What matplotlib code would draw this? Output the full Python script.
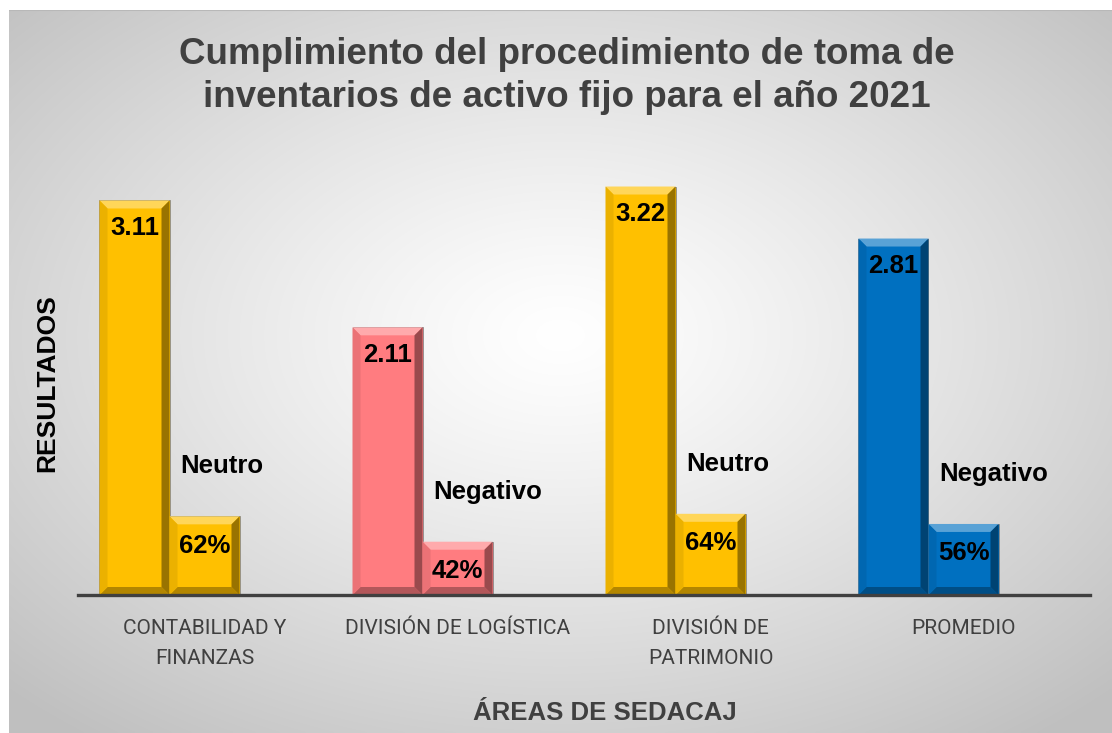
import numpy as np
import matplotlib
matplotlib.use("Agg")
import matplotlib.pyplot as plt
from matplotlib.patches import Polygon
from matplotlib.colors import to_rgb

# ── data ─────────────────────────────────────────────────────────────
areas = ["CONTABILIDAD Y\nFINANZAS", "DIVISIÓN DE LOGÍSTICA",
         "DIVISIÓN DE\nPATRIMONIO", "PROMEDIO"]
puntaje = [3.11, 2.11, 3.22, 2.81]
porcentaje = [0.62, 0.42, 0.64, 0.56]
nivel = ["Neutro", "Negativo", "Neutro", "Negativo"]
colores = ["#FFC000", "#FF7C80", "#FFC000", "#0070C0"]

TEXT_GRAY = "#404040"
plt.rcParams["font.family"] = ["Liberation Sans", "DejaVu Sans"]

W, H, DPI = 1112, 733, 100
fig = plt.figure(figsize=(W / DPI, H / DPI), dpi=DPI)
fig.patch.set_facecolor("white")

# ── radial gradient background (chart area) ─────────────────────────
bg = fig.add_axes([9 / W, 0, 1 - 9 / W, 1 - 10 / H], zorder=-10)
yy, xx = np.mgrid[-1:1:300j, -1:1:400j]
r = np.sqrt(xx ** 2 + (yy + 0.1) ** 2) / np.sqrt(2)
shade = 1.0 - 0.25 * np.clip(r, 0, 1) ** 1.2
bg.imshow(np.dstack([shade, shade, shade]), aspect="auto",
          extent=[0, 1, 0, 1], interpolation="bilinear")
bg.axhline(1, color="#b8b8b8", lw=1.5)
bg.set_axis_off()

# ── main axes ───────────────────────────────────────────────────────
ax = fig.add_axes([78 / W, 138 / H, 1012 / W, 444 / H])
ax.set_facecolor("none")
ax.set_xlim(-0.5, 3.5)
ax.set_ylim(0, 3.5)

x = np.arange(len(areas))
w = 70 / 253
bars1 = ax.bar(x - w, puntaje, w, color=colores, edgecolor="#8a8a8a",
               linewidth=0.6, zorder=2)
bars2 = ax.bar(x, porcentaje, w, color=colores, edgecolor="#8a8a8a",
               linewidth=0.6, zorder=2)

# bevel effect: light top, darker sides/bottom
px_x = 1012 / 4.0
px_y = 444 / 3.5
bx, by = 8 / px_x, 8 / px_y


def shade_col(c, f):
    c = np.array(to_rgb(c))
    return tuple(np.clip(c + (1 - c) * f, 0, 1)) if f > 0 else tuple(c * (1 + f))


for bar, col in zip(list(bars1) + list(bars2), colores + colores):
    x0, y0 = bar.get_x(), bar.get_y()
    x1, y1 = x0 + bar.get_width(), y0 + bar.get_height()
    o = [(x0, y0), (x1, y0), (x1, y1), (x0, y1)]
    i = [(x0 + bx, y0 + by), (x1 - bx, y0 + by), (x1 - bx, y1 - by), (x0 + bx, y1 - by)]
    sides = [
        ([o[3], o[2], i[2], i[3]], 0.35),   # top
        ([o[0], o[1], i[1], i[0]], -0.30),  # bottom
        ([o[0], o[3], i[3], i[0]], -0.08),  # left
        ([o[1], o[2], i[2], i[1]], -0.40),  # right
    ]
    for pts, f in sides:
        ax.add_patch(Polygon(pts, closed=True, facecolor=shade_col(col, f),
                             edgecolor="none", zorder=3))

# value labels
for bar, v in zip(bars1, puntaje):
    ax.annotate(f"{v:.2f}", (bar.get_x() + bar.get_width() / 2, v),
                xytext=(0, -20), textcoords="offset points",
                ha="center", va="center", fontsize=18.5, fontweight="bold",
                color="black", zorder=5)
for bar, v, lab in zip(bars2, porcentaje, nivel):
    ax.annotate(f"{v:.0%}", (bar.get_x() + bar.get_width() / 2, v),
                xytext=(0, -21), textcoords="offset points",
                ha="center", va="center", fontsize=18.5, fontweight="bold",
                color="black", zorder=5)
    ax.annotate(lab, (bar.get_x(), v), xytext=(8, 36),
                textcoords="offset points", ha="left", va="center",
                fontsize=18.5, fontweight="bold", color="black", zorder=5)

# axes styling
for s in ["top", "right", "left"]:
    ax.spines[s].set_visible(False)
ax.spines["bottom"].set_color(TEXT_GRAY)
ax.spines["bottom"].set_linewidth(2.4)
ax.spines["bottom"].set_zorder(4)
ax.set_yticks([])
ax.set_xticks(x)
ax.set_xticklabels(areas, fontsize=15, color=TEXT_GRAY,
                   family=["Roboto", "Liberation Sans"],
                   linespacing=1.75)
ax.tick_params(axis="x", length=0, pad=17)

ax.set_xlabel("ÁREAS DE SEDACAJ", fontsize=18.5, fontweight="bold", color=TEXT_GRAY)
ax.xaxis.set_label_coords(0.521, -0.238)
ax.set_ylabel("RESULTADOS", fontsize=19, fontweight="bold", color="black")
ax.yaxis.set_label_coords(-0.019, 0.477)

fig.text(567 / W, 1 - 76 / H,
         "Cumplimiento del procedimiento de toma de\n"
         "inventarios de activo fijo para el año 2021",
         ha="center", va="center", fontsize=26.5, fontweight="bold",
         color=TEXT_GRAY, linespacing=1.3)

fig.savefig("out.png", dpi=DPI)
